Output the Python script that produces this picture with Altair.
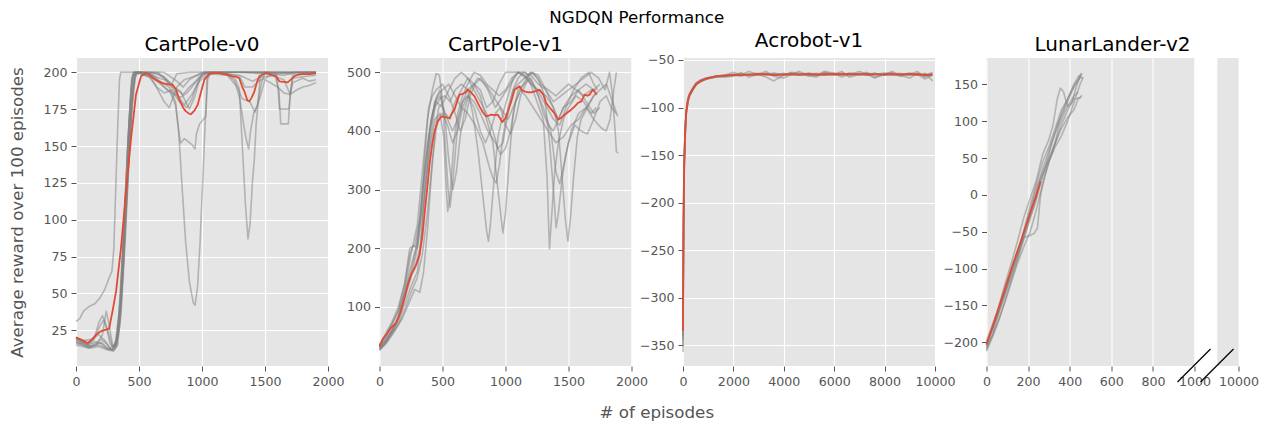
import altair as alt
import pandas as pd

FONT = "DejaVu Sans"
SUPTITLE = "NGDQN Performance"
XLABEL = "# of episodes"
YLABEL = "Average reward over 100 episodes"
ENVS = ["CartPole-v0", "CartPole-v1", "Acrobot-v1", "LunarLander-v2"]

# ---------------- tick values / domains ----------------
CP0_XTICKS = [0, 500, 1000, 1500, 2000]
CP0_YTICKS = [25, 50, 75, 100, 125, 150, 175, 200]
CP0_XDOM = [0, 2000]
CP0_YDOM = [0.8, 209.7]

CP1_XTICKS = [0, 500, 1000, 1500, 2000]
CP1_YTICKS = [100, 200, 300, 400, 500]
CP1_XDOM = [0, 2000]
CP1_YDOM = [-0.6, 524.4]

AC_XTICKS = [0, 2000, 4000, 6000, 8000, 10000]
AC_YTICKS = [-350, -300, -250, -200, -150, -100, -50]
AC_XDOM = [0, 10000]
AC_YDOM = [-371.8, -47.9]

LL_XTICKS = [0, 200, 400, 600, 800, 1000, 10000]
LL_YTICKS = [-200, -150, -100, -50, 0, 50, 100, 150]
LL_XDOM = [0, 1000, 9900, 10000]      # broken x axis
LL_YDOM = [-232.2, 185.7]
LL_GAP = [1000, 9900]                 # blank gap between the two pieces
LL_RIGHT = [9900, 10000]              # small right-hand piece
LL_BREAKS = [1000, 9900]              # where the break marks sit

# ---------------- CartPole-v0 runs (episode, reward) ----------------
CP0_RUN1 = [(0,31),(30,33),(60,38),(100,41),(150,43),(190,47),(230,53),(260,60),(285,65),(300,80),(315,120),(330,160),(345,195),(355,200),(500,200),(650,200),(700,196),(760,192),(800,199),(900,200),(1100,200),(1300,200),(1500,200),(1700,200),(1905,200)]
CP0_RUN2 = [(0,19),(50,17),(100,15),(150,17),(200,16),(250,12),(290,12),(320,18),(350,45),(380,90),(410,150),(440,195),(455,200),(550,200),(620,197),(680,193),(740,190),(790,180),(815,160),(840,125),(870,85),(900,58),(930,44),(945,42),(965,55),(985,85),(1005,125),(1025,165),(1040,196),(1060,200),(1200,200),(1400,200),(1600,199),(1750,200),(1905,200)]
CP0_RUN3 = [(0,17),(60,16),(120,14),(180,15),(240,13),(290,12),(330,20),(360,50),(390,100),(420,155),(450,190),(470,200),(600,198),(700,195),(800,188),(850,185),(900,190),(980,196),(1050,200),(1200,199),(1260,196),(1296,189),(1320,150),(1345,110),(1365,87),(1381,97),(1400,125),(1416,142),(1430,165),(1442,176),(1460,195),(1480,200),(1600,200),(1750,200),(1905,200)]
CP0_RUN4 = [(0,20),(60,18),(120,19),(180,22),(230,18),(270,13),(310,15),(340,35),(370,80),(400,130),(430,180),(450,198),(500,200),(600,197),(700,190),(750,186),(790,178),(815,160),(830,152),(860,155),(890,153),(920,151),(945,148),(955,158),(980,165),(1010,168),(1030,170),(1045,195),(1070,200),(1200,200),(1400,200),(1600,200),(1800,200),(1905,200)]
CP0_RUN5 = [(0,18),(50,16),(100,14),(150,15),(200,17),(250,13),(300,11),(330,15),(360,40),(390,85),(420,140),(450,185),(475,200),(600,199),(700,190),(760,186),(830,183),(880,186),(920,190),(970,196),(1020,200),(1200,199),(1260,194),(1300,182),(1330,165),(1350,155),(1370,148),(1385,160),(1410,172),(1440,178),(1470,192),(1500,200),(1590,199),(1605,188),(1615,175),(1690,175),(1705,188),(1720,198),(1800,199),(1905,199)]
CP0_RUN6 = [(0,16),(60,15),(120,13),(180,14),(240,12),(290,11),(320,14),(350,30),(380,75),(410,130),(440,178),(465,198),(500,200),(600,196),(650,188),(700,180),(740,176),(800,190),(860,195),(1000,199),(1100,200),(1300,198),(1400,194),(1480,197),(1580,198),(1610,188),(1625,165),(1685,165),(1700,185),(1720,196),(1800,197),(1905,198)]
CP0_RUN7 = [(0,19),(50,17),(100,16),(150,20),(190,28),(220,32),(250,25),(290,14),(320,16),(350,40),(380,95),(410,150),(440,190),(460,200),(600,200),(700,197),(800,185),(860,178),(920,185),(980,194),(1050,199),(1200,198),(1280,190),(1320,182),(1380,180),(1420,173),(1450,180),(1500,195),(1600,190),(1650,186),(1700,185),(1750,188),(1800,190),(1850,191),(1905,193)]
CP0_RUN8 = [(0,20),(40,18),(90,15),(140,18),(180,30),(210,35),(240,28),(270,16),(300,13),(330,22),(360,55),(390,110),(420,165),(445,195),(460,200),(580,197),(640,190),(700,186),(760,188),(820,180),(880,176),(920,182),(960,192),(1000,199),(1150,200),(1300,197),(1340,190),(1400,190),(1450,194),(1550,198),(1650,195),(1700,185),(1720,193),(1800,196),(1850,194),(1905,195)]
CP0_RUN9 = [(0,15),(50,14),(100,13),(150,16),(200,19),(240,16),(280,12),(310,13),(340,25),(370,60),(400,110),(430,160),(460,195),(480,200),(700,200),(800,194),(850,190),(900,195),(1000,200),(1300,200),(1500,199),(1650,198),(1750,200),(1905,200)]
CP0_RUN10 = [(0,17),(50,15),(100,13),(160,15),(210,22),(240,38),(260,30),(290,15),(320,14),(350,35),(380,75),(410,125),(440,172),(470,196),(490,200),(650,199),(720,195),(780,190),(830,187),(870,180),(900,175),(940,183),(980,195),(1020,200),(1200,200),(1500,200),(1700,199),(1905,200)]
CP0_MEAN = [(0,20.2),(45,18.5),(93,16.4),(130,19),(159,22),(200,24.5),(238,25.4),(262,26),(290,38),(318,51.4),(357,80.8),(397,119.2),(437,155.4),(476,184.8),(516,197.3),(556,199.5),(580,198.5),(609,196.1),(650,194),(688,192.7),(730,191.8),(767,191.6),(795,188),(820,181.4),(850,176),(873,173.5),(900,171.8),(913,171.7),(940,174),(966,178),(990,186),(1019,195),(1058,198.8),(1100,199.5),(1138,199.5),(1190,198.5),(1244,197.3),(1270,197),(1296,196),(1320,190),(1336,187.1),(1360,181),(1376,180.3),(1395,183),(1416,187.1),(1435,193),(1455,197.3),(1508,199.5),(1561,198),(1590,197),(1614,193.9),(1650,193.5),(1680,193.2),(1705,195),(1733,197.3),(1770,198.5),(1799,198.8),(1852,198.8),(1905,199.5)]

# ---------------- CartPole-v1 runs ----------------
CP1_RUN1 = [(0,30),(50,45),(100,62),(150,85),(200,130),(250,190),(300,240),(340,330),(380,420),(420,470),(450,498),(475,495),(500,455),(520,380),(545,300),(560,270),(585,320),(620,410),(660,450),(700,470),(750,480),(800,470),(850,440),(900,450),(950,480),(1000,500),(1100,500),(1150,495),(1200,480),(1260,470),(1320,460),(1380,440),(1420,400),(1450,320),(1475,250),(1495,212),(1515,250),(1540,320),(1570,390),(1600,420),(1650,440),(1700,460),(1750,470),(1800,480),(1850,450),(1890,425)]
CP1_RUN2 = [(0,28),(50,40),(100,58),(150,80),(200,115),(250,150),(300,200),(350,280),(400,380),(440,440),(480,455),(520,460),(560,450),(600,470),(650,480),(700,470),(740,430),(780,370),(820,290),(850,230),(865,212),(880,240),(910,320),(940,390),(980,430),(1020,460),(1060,490),(1100,500),(1160,490),(1220,500),(1280,480),(1340,470),(1400,460),(1450,470),(1500,480),(1560,470),(1620,460),(1680,470),(1720,470)]
CP1_RUN3 = [(0,35),(50,50),(100,70),(150,95),(200,140),(240,200),(280,205),(320,250),(360,330),(400,400),(440,450),(480,460),(520,430),(560,420),(600,450),(650,470),(700,490),(750,480),(800,460),(850,420),(900,380),(940,300),(979,226),(1000,260),(1030,350),(1060,430),(1100,470),(1150,480),(1200,490),(1260,460),(1300,430),(1340,410),(1380,400),(1420,420),(1460,440),(1520,450),(1580,470),(1640,480),(1700,470),(1750,480)]
CP1_RUN4 = [(0,32),(60,48),(120,66),(180,100),(230,145),(280,165),(320,200),(360,290),(400,370),(440,420),(480,430),(510,390),(530,300),(542,263),(560,290),(590,380),(620,430),(660,460),(700,480),(750,500),(800,495),(850,480),(900,470),(950,460),(1000,470),(1050,490),(1100,500),(1150,495),(1200,480),(1250,450),(1300,420),(1330,320),(1349,199),(1365,250),(1390,330),(1420,380),(1460,420),(1500,440),(1560,460),(1620,450),(1680,430),(1720,440)]
CP1_RUN5 = [(0,26),(50,38),(100,55),(150,75),(200,105),(250,135),(300,160),(330,210),(360,300),(400,400),(440,450),(480,470),(520,420),(550,350),(582,300),(610,330),(640,390),(680,440),(720,470),(780,490),(840,480),(900,460),(960,440),(1020,420),(1080,450),(1140,480),(1200,500),(1260,490),(1310,460),(1350,380),(1380,300),(1402,235),(1420,260),(1450,320),(1480,360),(1520,400),(1580,430),(1640,440),(1700,420),(1760,405),(1800,400),(1830,420),(1860,470),(1880,500)]
CP1_RUN6 = [(0,30),(50,42),(100,60),(150,82),(200,120),(250,160),(300,210),(340,300),(380,380),(420,430),(460,460),(500,470),(550,480),(600,460),(650,440),(700,430),(760,410),(820,380),(870,340),(900,320),(926,311),(950,340),(980,390),(1020,440),(1060,470),(1100,480),(1150,490),(1200,500),(1260,495),(1320,470),(1380,450),(1440,460),(1500,470),(1560,480),(1620,490),(1680,500),(1740,490),(1790,470),(1826,500),(1850,460),(1870,400),(1880,365),(1895,362)]
CP1_RUN7 = [(0,33),(50,52),(100,72),(150,92),(200,125),(250,170),(290,200),(330,260),(370,350),(410,420),(450,450),(500,440),(540,420),(580,400),(620,420),(660,450),(700,460),(750,440),(800,400),(840,380),(880,400),(920,430),(960,440),(1000,410),(1040,395),(1080,420),(1120,460),(1180,490),(1240,470),(1300,440),(1360,400),(1400,330),(1430,310),(1460,340),(1500,380),(1550,410),(1600,400),(1650,395),(1700,420),(1750,450),(1800,460),(1840,440),(1880,430)]
CP1_RUN8 = [(0,29),(60,44),(120,60),(180,80),(240,110),(280,130),(320,125),(350,160),(380,230),(410,320),(440,400),(470,440),(510,450),(550,470),(600,490),(650,500),(700,490),(750,470),(800,450),(850,430),(900,400),(940,370),(980,380),(1020,430),(1060,470),(1100,490),(1140,500),(1200,495),(1260,480),(1320,470),(1380,440),(1420,420),(1460,440),(1520,460),(1580,470),(1640,450),(1700,430),(1750,440)]
CP1_RUN9 = [(0,36),(50,55),(100,75),(150,100),(200,140),(240,190),(270,205),(300,200),(330,260),(360,360),(390,440),(420,460),(450,470),(500,480),(550,460),(600,430),(640,400),(680,420),(720,460),(760,480),(800,490),(860,470),(920,440),(980,460),(1040,480),(1100,500),(1160,500),(1220,480),(1280,460),(1330,440),(1380,420),(1430,410),(1480,440),(1540,470),(1600,490),(1660,500),(1700,480),(1730,470)]
CP1_RUN10 = [(0,27),(50,37),(100,52),(150,70),(200,95),(250,125),(300,150),(340,190),(380,260),(420,350),(460,420),(500,430),(540,410),(580,380),(620,400),(660,440),(700,460),(750,450),(800,430),(860,400),(920,380),(960,360),(1000,370),(1040,400),(1080,450),(1120,470),(1160,460),(1220,440),(1280,420),(1340,400),(1400,380),(1460,390),(1520,410),(1580,420),(1640,440),(1700,460),(1720,465)]
CP1_MEAN = [(0,32.9),(25,45),(53,52.8),(90,64),(132,72.7),(165,90),(198,115.3),(225,138),(251,155),(291,172),(318,189),(340,220),(357,257),(380,305),(397,342.6),(420,380),(437,399.4),(463,416.4),(485,423),(503,425),(530,423),(556,422),(575,430),(595,436.3),(615,450),(635,461.9),(655,463),(675,464.7),(701,470.4),(725,466),(754,459),(775,450),(794,442),(820,432),(847,425),(865,426),(886,427.8),(910,427),(939,427.8),(955,422),(974,415.3),(995,420),(1019,433.5),(1045,450),(1072,470.4),(1090,473),(1111,476.1),(1130,470),(1151,467.6),(1180,466),(1204,465.9),(1240,468),(1270,470.4),(1300,462),(1323,447.7),(1350,440),(1376,433.5),(1395,428),(1416,419.3),(1440,422),(1469,427.8),(1495,432),(1521,436.3),(1550,442),(1574,447.7),(1601,450.5),(1615,456),(1627,461.9),(1650,460),(1667,461.9),(1693,470.4),(1710,466),(1725,461.9)]

# ---------------- Acrobot-v1 runs (shared episode grid) ----------------
AC_X = [0,10,20,35,50,75,100,132,200,265,400,530,700,930,1300,1650,2000,2300,2600,3000,3300,3600,4000,4300,4600,5000,5300,5600,6000,6300,6600,7000,7300,7600,8000,8300,8600,9000,9300,9600,9900]
AC_RUN1 = [-357,-300,-245,-190,-165,-140,-121,-106,-94,-88,-81,-76,-73,-70,-68,-67,-66,-67,-65,-66,-64,-66,-65,-64,-66,-65,-64,-66,-65,-64,-65,-66,-64,-65,-64,-66,-65,-64,-66,-65,-64]
AC_RUN2 = [-330,-270,-220,-172,-152,-131,-115,-102,-90,-85,-79,-74,-71,-69,-67,-66,-63,-66,-62,-65,-68,-72,-66,-63,-64,-67,-66,-62,-64,-68,-65,-62,-65,-69,-65,-63,-67,-65,-62,-68,-65]
AC_RUN3 = [-345,-290,-238,-185,-162,-138,-120,-106,-93,-87,-81,-75,-73,-70,-68,-67,-66,-65,-66,-64,-65,-66,-64,-66,-65,-64,-66,-65,-66,-65,-64,-65,-66,-64,-66,-65,-64,-66,-65,-70,-66]
AC_RUN4 = [-320,-265,-218,-170,-150,-130,-114,-101,-90,-85,-79,-74,-71,-69,-67,-68,-67,-63,-68,-65,-62,-67,-69,-65,-62,-66,-68,-63,-65,-62,-68,-65,-63,-68,-65,-62,-66,-69,-64,-67,-63]
AC_RUN5 = [-340,-285,-232,-182,-160,-137,-119,-105,-92,-87,-80,-76,-72,-70,-67,-66,-66,-66,-65,-65,-66,-64,-65,-64,-66,-65,-66,-64,-65,-66,-64,-65,-65,-64,-66,-65,-66,-64,-65,-66,-65]
AC_RUN6 = [-350,-280,-228,-178,-156,-134,-117,-103,-91,-86,-80,-75,-72,-69,-67,-66,-65,-65,-66,-65,-65,-64,-66,-65,-66,-64,-65,-66,-64,-65,-66,-64,-66,-65,-64,-65,-66,-65,-66,-64,-72]
AC_MEAN = [-335,-280,-230,-180,-158,-135,-118,-104,-92,-86.5,-80,-75,-72,-69.6,-67.3,-66.5,-65.8,-65.5,-65.3,-65,-65,-66,-65.3,-65,-65.2,-64.8,-65.3,-65,-65,-65,-64.8,-65.2,-65,-65.3,-65.2,-64.8,-65.2,-65,-65,-65.8,-65.6]

# ---------------- LunarLander-v2 runs ----------------
LL_RUN1 = [(0,-205),(25,-185),(50,-165),(80,-140),(110,-115),(140,-90),(170,-65),(200,-40),(230,-15),(260,15),(290,45),(320,75),(350,100),(380,120),(410,140),(440,155),(460,165)]
LL_RUN2 = [(0,-210),(30,-188),(60,-160),(90,-135),(120,-110),(150,-85),(180,-55),(210,-25),(240,5),(270,35),(300,60),(330,85),(360,110),(390,130),(420,148),(450,160),(462,158)]
LL_RUN3 = [(0,-200),(30,-180),(60,-155),(90,-128),(120,-100),(150,-75),(180,-58),(210,-55),(230,-52),(245,-45),(260,0),(280,25),(300,45),(330,70),(360,95),(390,115),(420,130),(455,132)]
LL_RUN4 = [(0,-205),(30,-178),(60,-150),(90,-120),(120,-92),(150,-62),(180,-30),(210,-5),(240,20),(270,55),(300,75),(320,95),(340,130),(355,145),(370,140),(390,120),(410,125),(430,145),(455,165)]
LL_RUN5 = [(0,-198),(30,-175),(60,-152),(90,-128),(120,-102),(150,-80),(180,-50),(210,-20),(240,10),(270,30),(300,50),(330,70),(360,90),(390,105),(420,115),(440,130),(460,135)]
LL_RUN6 = [(0,-208),(30,-190),(60,-168),(90,-145),(120,-118),(150,-92),(180,-70),(210,-50),(240,-20),(270,15),(300,45),(330,65),(360,80),(390,100),(420,125),(450,150),(465,160)]
LL_RUN7 = [(0,-212),(30,-192),(60,-170),(90,-142),(120,-115),(150,-88),(180,-60),(210,-30),(240,-5),(260,20),(290,40),(320,60),(350,95),(380,115),(410,130),(440,140)]
LL_RUN8 = [(0,-202),(30,-182),(60,-158),(90,-132),(120,-105),(150,-78),(180,-48),(210,-15),(240,15),(270,45),(300,65),(330,90),(360,115),(390,130),(420,150),(445,162),(455,160)]
LL_MEAN = [(0,-203),(40,-170),(80,-135),(120,-100),(160,-67),(200,-33),(240,0),(260,18)]

# ---------------- styling constants ----------------
BG = "#E5E5E5"
GRAY = "#808080"
RED = "#E24A33"
TXT = "#555555"
PW, PH = 252, 308


def runs_frame(runs):
    rows = []
    for i, run in enumerate(runs):
        for j, (x, y) in enumerate(run):
            rows.append({"run": i, "x": x, "y": y, "o": j})
    return pd.DataFrame(rows)


def grid_runs_frame(xs, runs):
    return runs_frame([list(zip(xs, r)) for r in runs])


def mean_frame(pairs):
    return pd.DataFrame({"x": [p[0] for p in pairs], "y": [p[1] for p in pairs], "o": list(range(len(pairs)))})


def axes(xticks, yticks, ytitle=None):
    xa = alt.Axis(values=xticks, format="d", title=None, grid=True)
    if ytitle:
        ya = alt.Axis(values=yticks, format="d", title=ytitle, titleX=-54, titleY=PH / 2,
                      titleBaseline="alphabetic", titleAngle=270, titleAlign="center",
                      titleFontSize=16.7, titleColor=TXT, titleFont=FONT, titleFontWeight="normal")
    else:
        ya = alt.Axis(values=yticks, format="d", title=None)
    return xa, ya


def panel(title, gray_df, mean_df, xscale, yscale, xa, ya, pre=None, post=None):
    enc = dict(x=alt.X("x:Q", scale=xscale, axis=xa), y=alt.Y("y:Q", scale=yscale, axis=ya))
    gray = alt.Chart(gray_df).mark_line(color=GRAY, opacity=0.5, strokeWidth=1.6, strokeJoin="round").encode(
        detail="run:N", order="o:Q", **enc)
    red = alt.Chart(mean_df).mark_line(color=RED, strokeWidth=1.8, strokeJoin="round").encode(order="o:Q", **enc)
    layers = (pre or []) + [gray, red] + (post or [])
    return alt.layer(*layers).properties(
        width=PW, height=PH,
        title=alt.TitleParams(title, fontSize=20, font=FONT, fontWeight="normal", color="#000000",
                              anchor="middle", baseline="alphabetic", offset=-13))


# CartPole-v0
xs0 = alt.Scale(domain=CP0_XDOM, nice=False, zero=False)
ys0 = alt.Scale(domain=CP0_YDOM, nice=False, zero=False)
xa0, ya0 = axes(CP0_XTICKS, CP0_YTICKS, YLABEL)
p1 = panel(ENVS[0], runs_frame([CP0_RUN1, CP0_RUN2, CP0_RUN3, CP0_RUN4, CP0_RUN5, CP0_RUN6, CP0_RUN7, CP0_RUN8, CP0_RUN9, CP0_RUN10]),
           mean_frame(CP0_MEAN), xs0, ys0, xa0, ya0)

# CartPole-v1
xs1 = alt.Scale(domain=CP1_XDOM, nice=False, zero=False)
ys1 = alt.Scale(domain=CP1_YDOM, nice=False, zero=False)
xa1, ya1 = axes(CP1_XTICKS, CP1_YTICKS)
p2 = panel(ENVS[1], runs_frame([CP1_RUN1, CP1_RUN2, CP1_RUN3, CP1_RUN4, CP1_RUN5, CP1_RUN6, CP1_RUN7, CP1_RUN8, CP1_RUN9, CP1_RUN10]),
           mean_frame(CP1_MEAN), xs1, ys1, xa1, ya1)

# Acrobot-v1
xs2 = alt.Scale(domain=AC_XDOM, nice=False, zero=False)
ys2 = alt.Scale(domain=AC_YDOM, nice=False, zero=False)
xa2, ya2 = axes(AC_XTICKS, AC_YTICKS)
p3 = panel(ENVS[2], grid_runs_frame(AC_X, [AC_RUN1, AC_RUN2, AC_RUN3, AC_RUN4, AC_RUN5, AC_RUN6]),
           mean_frame(list(zip(AC_X, AC_MEAN))), xs2, ys2, xa2, ya2)

# LunarLander-v2 with broken x axis (piecewise scale)
xs3 = alt.Scale(domain=LL_XDOM, range=[0, 208, 231, 252], nice=False, zero=False)
ys3 = alt.Scale(domain=LL_YDOM, nice=False, zero=False)
xa3, ya3 = axes(LL_XTICKS, LL_YTICKS)
blocks = pd.DataFrame({"x0": [LL_GAP[0], LL_RIGHT[0]], "x1": [LL_GAP[1], LL_RIGHT[1]], "fill": ["#FFFFFF", BG]})
rects = alt.Chart(blocks).mark_rect(strokeWidth=0).encode(
    x=alt.X("x0:Q", scale=xs3, axis=xa3), x2="x1:Q",
    y=alt.Y(datum=LL_YDOM[0], scale=ys3, axis=ya3), y2=alt.datum(LL_YDOM[1]),
    color=alt.Color("fill:N", scale=None))
brk = alt.Chart(pd.DataFrame({"bx": LL_BREAKS})).mark_rule(
    color="#000000", strokeWidth=1.2, xOffset=-17, x2Offset=16, yOffset=16, y2Offset=-17).encode(
    x=alt.X("bx:Q", scale=xs3, axis=xa3), x2="bx:Q",
    y=alt.Y(datum=LL_YDOM[0], scale=ys3, axis=ya3), y2=alt.datum(LL_YDOM[0]))
p4 = panel(ENVS[3], runs_frame([LL_RUN1, LL_RUN2, LL_RUN3, LL_RUN4, LL_RUN5, LL_RUN6, LL_RUN7, LL_RUN8]),
           mean_frame(LL_MEAN), xs3, ys3, xa3, ya3, pre=[rects], post=[brk])

row = alt.hconcat(p1, p2, p3, p4, spacing=51.5, bounds="flush",
                  title=alt.TitleParams(XLABEL, orient="bottom", anchor="middle", fontSize=16.7, font=FONT,
                                        fontWeight="normal", color=TXT, baseline="alphabetic", offset=30, dx=23))

chart = alt.vconcat(row, title=alt.TitleParams(SUPTITLE, anchor="middle", fontSize=16.7, font=FONT,
                                               fontWeight="normal", color="#000000", baseline="alphabetic",
                                               offset=-9, dx=3),
                    padding={"left": 0, "top": 2, "right": 0, "bottom": 0}
                    ).configure_view(fill=BG, stroke=None).configure_axis(
    domain=False, labelFont=FONT, labelFontSize=12.6, labelColor=TXT, tickColor=TXT, tickSize=5, tickWidth=1,
    labelPadding=4, gridColor="#FFFFFF", gridWidth=1.1, labelFlush=False, labelOverlap=False,
    labelExpr="replace(datum.label, '-', '\u2212')")

chart.save("out.html", embed_options={"renderer": "svg", "actions": False})
